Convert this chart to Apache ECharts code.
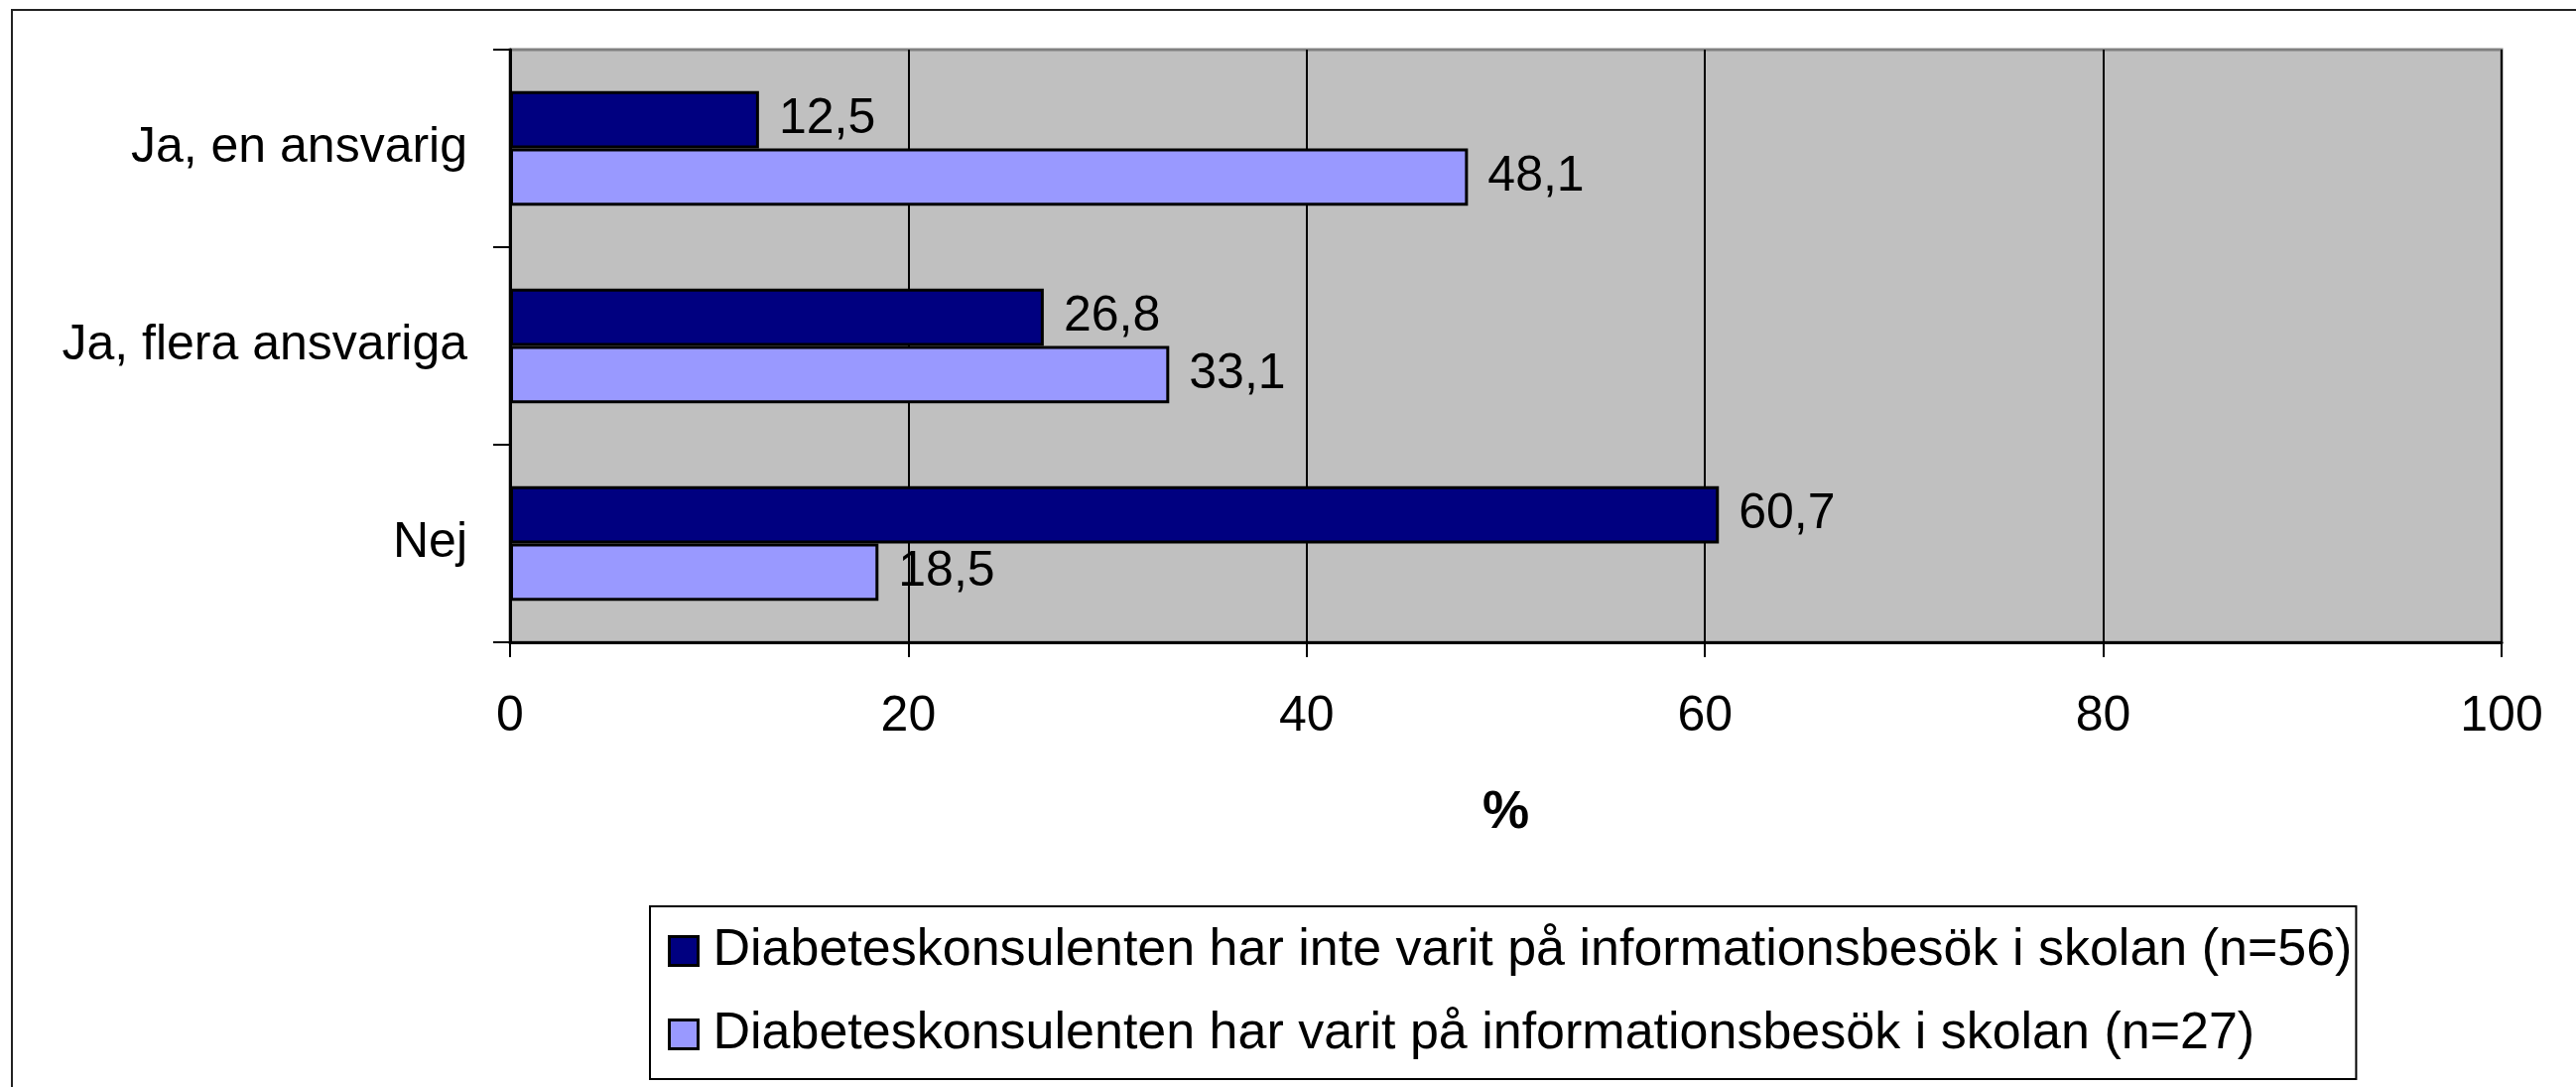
<!DOCTYPE html>
<html>
<head>
<meta charset="utf-8">
<script src="https://cdn.jsdelivr.net/npm/echarts@6/dist/echarts.min.js"></script>
<style>
  html, body { margin: 0; padding: 0; background: #fff; }
  #chart { width: 2596px; height: 1095px; }
</style>
</head>
<body>
<div id="chart"></div>
<script>
// svar per kategori, i procent
const categories = ['Ja, en ansvarig', 'Ja, flera ansvariga', 'Nej']
const seriesNames = [
  'Diabeteskonsulenten har inte varit på informationsbesök i skolan (n=56)',
  'Diabeteskonsulenten har varit på informationsbesök i skolan (n=27)'
]
const inteBesok = [12.5, 26.8, 60.7]
const harBesok = [48.1, 33.1, 18.5]
const xTicks = [0, 20, 40, 60, 80, 100]

const FONT = '"Liberation Sans", Arial, sans-serif'

const chart = echarts.init(document.getElementById('chart'))

const label = {
  show: true,
  position: 'right',
  distance: 20,
  color: '#000',
  fontSize: 50,
  fontFamily: FONT,
  formatter: (p) => String(p.value).replace('.', ',')
}

const option = {
  animation: false,
  textStyle: { fontFamily: FONT },
  graphic: [
    {
      type: 'rect',
      shape: { x: 12, y: 10, width: 2700, height: 1200 },
      style: { fill: 'none', stroke: '#222', lineWidth: 2 },
      silent: true
    }
  ],
  grid: {
    left: 514,
    right: 75,
    top: 50,
    bottom: 448,
    show: true,
    backgroundColor: '#C0C0C0',
    borderColor: '#808080',
    borderWidth: 3
  },
  legend: {
    left: 655,
    top: 913,
    orient: 'vertical',
    padding: [17, 4, 17, 18],
    itemGap: 28,
    itemWidth: 29,
    itemHeight: 29,
    icon: 'rect',
    borderColor: '#000',
    borderWidth: 2,
    itemStyle: { borderColor: '#000', borderWidth: 3 },
    textStyle: { fontSize: 52, color: '#000', fontFamily: FONT, lineHeight: 56, padding: [0, 0, 0, 10] },
    data: seriesNames
  },
  xAxis: {
    type: 'value',
    min: xTicks[0],
    max: xTicks[xTicks.length - 1],
    interval: 20,
    name: '%',
    nameLocation: 'middle',
    nameGap: 146,
    nameTextStyle: { fontSize: 53, fontWeight: 'bold', color: '#000', fontFamily: FONT },
    axisLine: { show: true, lineStyle: { color: '#000', width: 3 } },
    axisTick: { show: true, length: 15, lineStyle: { color: '#000', width: 2 } },
    axisLabel: { margin: 50, fontSize: 50, color: '#000', fontFamily: FONT },
    splitLine: { show: true, lineStyle: { color: '#000', width: 2 } }
  },
  yAxis: {
    type: 'category',
    inverse: true,
    data: categories,
    axisLine: { show: true, lineStyle: { color: '#000', width: 3 } },
    axisTick: { show: true, length: 17, lineStyle: { color: '#000', width: 2 } },
    axisLabel: { margin: 43, fontSize: 50, color: '#000', fontFamily: FONT }
  },
  series: [
    {
      name: seriesNames[0],
      type: 'bar',
      data: inteBesok,
      barGap: '0%',
      barCategoryGap: '42%',
      itemStyle: { color: '#000080', borderColor: '#000', borderWidth: 3 },
      label: label
    },
    {
      name: seriesNames[1],
      type: 'bar',
      data: harBesok,
      barGap: '0%',
      barCategoryGap: '42%',
      itemStyle: { color: '#9999FF', borderColor: '#000', borderWidth: 3 },
      label: label
    }
  ]
}

chart.setOption(option)
</script>
</body>
</html>
